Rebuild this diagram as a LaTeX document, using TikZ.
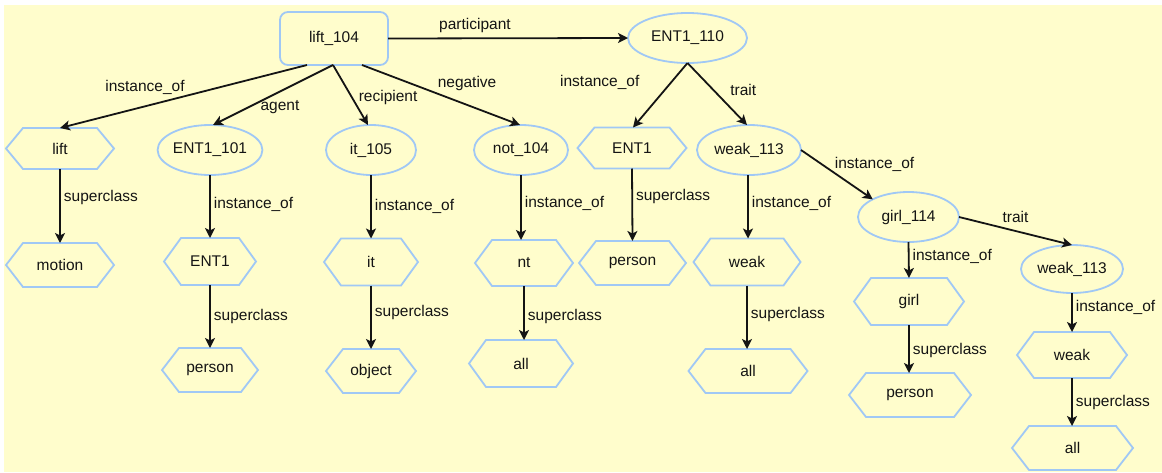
\documentclass[tikz,border=0pt]{standalone}
\usepackage{fontspec}
\setmainfont{Liberation Sans}
\usetikzlibrary{shapes.geometric,arrows.meta,calc}
\definecolor{bgyellow}{RGB}{255,253,204}
\definecolor{nodeblue}{RGB}{160,200,245}
\definecolor{ink}{RGB}{20,20,20}
\begin{document}
\begin{tikzpicture}[x=1pt,y=-1pt,
  font=\fontsize{15.5}{18}\selectfont, text=ink,
  ell/.style={ellipse, draw=nodeblue, line width=1.8pt, inner sep=0pt, outer sep=0pt},
  hexbox/.style={rectangle, inner sep=0pt, outer sep=0pt, minimum height=44pt},
  hexline/.style={draw=nodeblue, line width=1.8pt, line join=miter},
  rbox/.style={rectangle, rounded corners=8pt, draw=nodeblue, line width=1.8pt, outer sep=0pt, minimum width=108pt, minimum height=53pt},
  conn/.style={draw=ink, line width=1.8pt, -{Stealth[length=10pt,width=10pt,inset=2.5pt]}},
  lab/.style={inner sep=1pt},
  vlab/.style={inner sep=1pt, anchor=west, xshift=2pt}
]
\useasboundingbox (0,0) rectangle (1162,472);
\fill[bgyellow] (4,5) rectangle (1162,472);

% top
\node[rbox] (lift104) at (334,38.5) {lift\_104};
\node[ell, minimum width=119pt, minimum height=50pt] (ent110) at (687.5,38) {ENT1\_110};

% second row
\node[hexbox, minimum width=108pt, minimum height=41pt] (lift) at (60,148.5) {lift};
\node[ell, minimum width=86pt, minimum height=50pt] (ent101) at (210,150) {ENT1\_101};
\node[ell, minimum width=90pt, minimum height=50pt] (it105) at (371,150) {it\_105};
\node[ell, minimum width=94pt, minimum height=50pt] (not104) at (521,150) {not\_104};
\node[hexbox, minimum width=109pt, minimum height=41pt] (entb) at (632,148) {ENT1};
\node[ell, minimum width=104pt, minimum height=50pt] (weak113) at (749,150) {weak\_113};
\node[ell, minimum width=101pt, minimum height=50pt] (girl114) at (908.5,217) {girl\_114};
\node[ell, minimum width=102pt, minimum height=48pt] (weak113b) at (1072,269) {weak\_113};

% hexagons
\node[hexbox, minimum width=108pt] (motion) at (60,265) {motion};
\node[hexbox, minimum width=92pt, minimum height=47pt] (enta) at (210,261.5) {ENT1};
\node[hexbox, minimum width=96pt] (persona) at (210,370) {person};
\node[hexbox, minimum width=94pt, minimum height=47pt] (ita) at (371,262) {it};
\node[hexbox, minimum width=90pt] (object) at (371,371) {object};
\node[hexbox, minimum width=98pt, minimum height=46pt] (nt) at (524,263) {nt};
\node[hexbox, minimum width=104pt, minimum height=47pt] (alla) at (521,363.5) {all};
\node[hexbox, minimum width=107pt] (personb) at (632.5,263) {person};
\node[hexbox, minimum width=107pt, minimum height=47pt] (weakb) at (747,262) {weak};
\node[hexbox, minimum width=119pt] (allb) at (748,371) {all};
\node[hexbox, minimum width=110pt, minimum height=47pt] (girl) at (909,301.5) {girl};
\node[hexbox, minimum width=122pt] (personc) at (910,395) {person};
\node[hexbox, minimum width=110pt, minimum height=46pt] (weakc) at (1072,355) {weak};
\node[hexbox, minimum width=121pt] (allc) at (1072.5,448) {all};

\foreach \n in {lift,entb,motion,enta,persona,ita,object,nt,alla,personb,weakb,allb,girl,personc,weakc,allc}{
  \draw[hexline] (\n.west) -- ([xshift=17pt]\n.north west) -- ([xshift=-17pt]\n.north east)
    -- (\n.east) -- ([xshift=-17pt]\n.south east) -- ([xshift=17pt]\n.south west) -- cycle;
}

% connectors from lift_104
\draw[conn] (lift104.east) -- node[lab, pos=0.3625, yshift=13pt] {participant} (ent110.west);
\draw[conn] ([xshift=-27pt]lift104.south) -- node[lab, pos=0.656, yshift=18.7pt] {instance\_of} (lift.north);
\draw[conn] ([xshift=-1pt]lift104.south) -- node[lab, pos=0.442, yshift=-16pt] {agent} ([xshift=3pt]ent101.north);
\draw[conn] ([xshift=-1pt]lift104.south) -- node[lab, pos=0.54, anchor=west, xshift=5pt] {recipient} ([xshift=-3pt]it105.north);
\draw[conn] ([xshift=28pt]lift104.south) -- node[lab, pos=0.665, yshift=21pt] {negative} ([xshift=-1pt]not104.north);

% from ENT1_110
\draw[conn] (ent110.south) -- node[lab, pos=0.297, anchor=east, xshift=-30pt] {instance\_of} ([xshift=1pt]entb.north);
\draw[conn] (ent110.south) -- node[lab, pos=0.435, anchor=west, xshift=15pt] {trait} ([xshift=-2pt]weak113.north);
\draw[conn] (weak113.east) -- node[lab, pos=0.446, anchor=south west, yshift=-1pt] {instance\_of} (girl114.north west);
\draw[conn] (girl114.east) -- node[lab, pos=0.5, yshift=14pt] {trait} (weak113b.north);

% vertical connectors
\draw[conn] (lift.south) -- node[vlab, pos=0.38] {superclass} (motion.north);
\draw[conn] (ent101.south) -- node[vlab, pos=0.46] {instance\_of} (enta.north);
\draw[conn] (enta.south) -- node[vlab, pos=0.5] {superclass} (persona.north);
\draw[conn] (it105.south) -- node[vlab, pos=0.5] {instance\_of} (ita.north);
\draw[conn] (ita.south) -- node[vlab, pos=0.43] {superclass} (object.north);
\draw[conn] ([xshift=0pt]not104.south) -- node[vlab, pos=0.43] {instance\_of} ([xshift=-3pt]nt.north);
\draw[conn] (nt.south) -- node[vlab, pos=0.57] {superclass} ([xshift=3pt]alla.north);
\draw[conn] (entb.south) -- node[vlab, pos=0.38] {superclass} (personb.north);
\draw[conn] ([xshift=-1pt]weak113.south) -- node[vlab, pos=0.44] {instance\_of} ([xshift=1pt]weakb.north);
\draw[conn] (weakb.south) -- node[vlab, pos=0.45] {superclass} ([xshift=-1pt]allb.north);
\draw[conn] (girl114.south) -- node[vlab, pos=0.39] {instance\_of} (girl.north);
\draw[conn] (girl.south) -- node[vlab, pos=0.54] {superclass} ([xshift=-1pt]personc.north);
\draw[conn] (weak113b.south) -- node[vlab, pos=0.38] {instance\_of} (weakc.north);
\draw[conn] (weakc.south) -- node[vlab, pos=0.52] {superclass} ([xshift=-0.5pt]allc.north);
\end{tikzpicture}
\end{document}
